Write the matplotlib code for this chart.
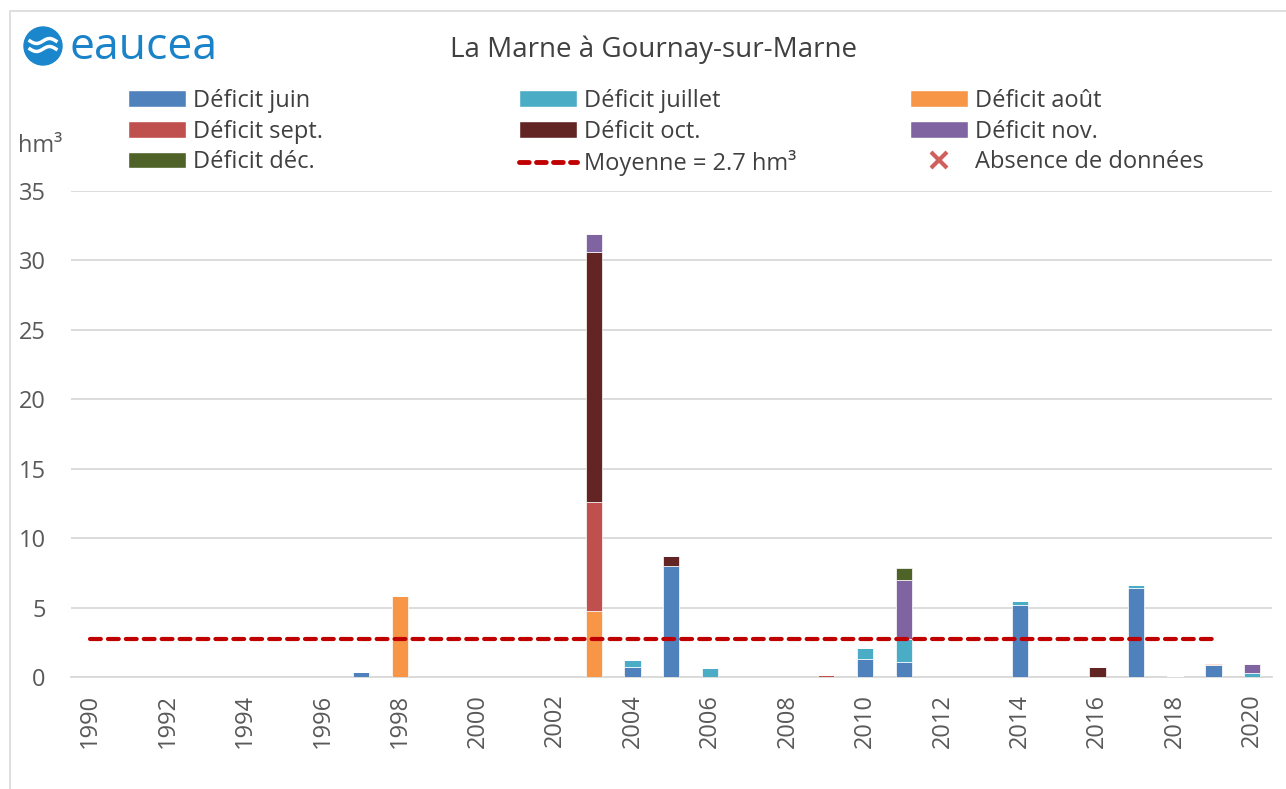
import numpy as np
import matplotlib
matplotlib.use("Agg")
import matplotlib.pyplot as plt
from matplotlib.patches import Patch, Ellipse, Rectangle
from matplotlib.lines import Line2D

plt.rcParams['font.family'] = ['Open Sans', 'DejaVu Sans']

# data (hm3) per year and per month
years = list(range(1990, 2021))
juin = [0, 0, 0, 0, 0, 0, 0, 0.35, 0, 0,
        0, 0, 0, 0, 0.7, 8.0, 0, 0, 0, 0,
        1.3, 1.05, 0, 0, 5.15, 0, 0, 6.4, 0, 0.85,
        0]
juillet = [0, 0, 0, 0, 0, 0, 0, 0, 0, 0,
           0, 0, 0, 0, 0.5, 0, 0.65, 0, 0, 0,
           0.75, 1.7, 0, 0, 0.35, 0, 0, 0.2, 0, 0,
           0.3]
aout = [0, 0, 0, 0, 0, 0, 0, 0, 5.85, 0,
        0, 0, 0, 4.75, 0, 0, 0, 0, 0, 0,
        0, 0, 0, 0, 0, 0, 0, 0, 0.08, 0.07,
        0]
sept = [0, 0, 0, 0, 0, 0, 0, 0, 0, 0,
        0, 0, 0, 7.85, 0, 0, 0, 0, 0, 0.15,
        0, 0, 0, 0, 0, 0, 0, 0, 0, 0.08,
        0]
octo = [0, 0, 0, 0, 0, 0, 0, 0, 0, 0,
        0, 0, 0, 18.0, 0, 0.7, 0, 0, 0, 0,
        0, 0, 0, 0, 0, 0, 0.75, 0, 0, 0,
        0]
nov = [0, 0, 0, 0, 0, 0, 0, 0, 0, 0,
       0, 0, 0, 1.3, 0, 0, 0, 0, 0, 0,
       0, 4.25, 0, 0, 0, 0, 0, 0, 0, 0,
       0.6]
dec = [0, 0, 0, 0, 0, 0, 0, 0, 0, 0,
       0, 0, 0, 0, 0, 0, 0, 0, 0, 0,
       0, 0.85, 0, 0, 0, 0, 0, 0, 0, 0,
       0]
moyenne = 2.7
mean_years = years[:-1]

series = [juin, juillet, aout, sept, octo, nov, dec]
labels = ['Déficit juin', 'Déficit juillet', 'Déficit août', 'Déficit sept.',
          'Déficit oct.', 'Déficit nov.', 'Déficit déc.']
colors = ['#4f81bd', '#4bacc6', '#f79646', '#c0504d', '#632523', '#8064a2', '#4f6228']

fig = plt.figure(figsize=(12.86, 7.89), dpi=100)
ax = fig.add_axes([0.0549, 0.142, 0.934, 0.616])

bottom = np.zeros(len(years))
for vals, col in zip(series, colors):
    ax.bar(years, vals, width=0.42, bottom=bottom, color=col,
           edgecolor='white', linewidth=0.5, zorder=3)
    bottom += np.array(vals)

ax.plot(mean_years, [moyenne] * len(mean_years), color='#c00000', lw=3,
        linestyle=(0, (2.6, 1.7)), dash_capstyle='round', zorder=4)

ax.set_xlim(1989.5, 2020.5)
ax.set_ylim(0, 35)
ax.set_yticks(range(0, 36, 5))
ax.set_xticks(years[::2])
ax.set_xticklabels([str(y) for y in years[::2]], rotation=90)
ax.tick_params(axis='both', length=0, labelsize=17, labelcolor='#595959')
ax.tick_params(axis='x', pad=12)
ax.tick_params(axis='y', pad=18)
ax.grid(axis='y', color='#d9d9d9', lw=1.3, zorder=0)
for s in ['top', 'right', 'left']:
    ax.spines[s].set_visible(False)
ax.spines['bottom'].set_color('#d9d9d9')
ax.spines['bottom'].set_linewidth(1.3)

fig.text(18 / 1286, 1 - 146 / 789, 'hm³', fontsize=17, color='#595959', va='center')

# title and logo
fig.text(654 / 1286, 1 - 50 / 789, 'La Marne à Gournay-sur-Marne', fontsize=20,
         color='#404040', ha='center', va='center')
fig.text(70 / 1286, 1 - 48 / 789, 'eaucea', fontsize=32, color='#1a82c8',
         ha='left', va='center')
fig.add_artist(Ellipse((43 / 1286, 1 - 46 / 789), 38 / 1286, 38 / 789,
                       transform=fig.transFigure, color='#1a86cc'))
wx = np.linspace(30, 56, 20)
for dy in (-5, 3):
    wy = 46 + dy + 2.5 * np.sin((wx - 30) / 26 * 2 * np.pi)
    fig.add_artist(Line2D(wx / 1286, 1 - wy / 789, color='white', lw=2.5,
                          transform=fig.transFigure))

# chart border
fig.add_artist(Rectangle((10 / 1286, -0.02), 1.1, 1 - 11 / 789 + 0.02,
                         transform=fig.transFigure, fill=False,
                         edgecolor='#d9d9d9', lw=1.2))

# legend, three columns
h = [Patch(facecolor=c, edgecolor='white') for c in colors]
h_mean = Line2D([0], [0], color='#c00000', lw=3.5, linestyle=(0, (2.0, 1.5)),
                dash_capstyle='round')
h_abs = Line2D([0], [0], color='#d0605e', marker='x', linestyle='none',
               markersize=11, markeredgewidth=3)
cols = [
    ([h[0], h[3], h[6]], [labels[0], labels[3], labels[6]], 128),
    ([h[1], h[4], h_mean], [labels[1], labels[4], 'Moyenne = 2.7 hm³'], 519),
    ([h[2], h[5], h_abs], [labels[2], labels[5], 'Absence de données'], 910),
]
for hh, ll, xpx in cols:
    fig.legend(hh, ll, loc='upper left', bbox_to_anchor=(xpx / 1286, 1 - 89 / 789),
               frameon=False, fontsize=17, handlelength=2.45, handleheight=0.7,
               handletextpad=0.3, labelspacing=0.28, borderpad=0, borderaxespad=0,
               labelcolor='#404040')

fig.savefig('out.png', dpi=100)
